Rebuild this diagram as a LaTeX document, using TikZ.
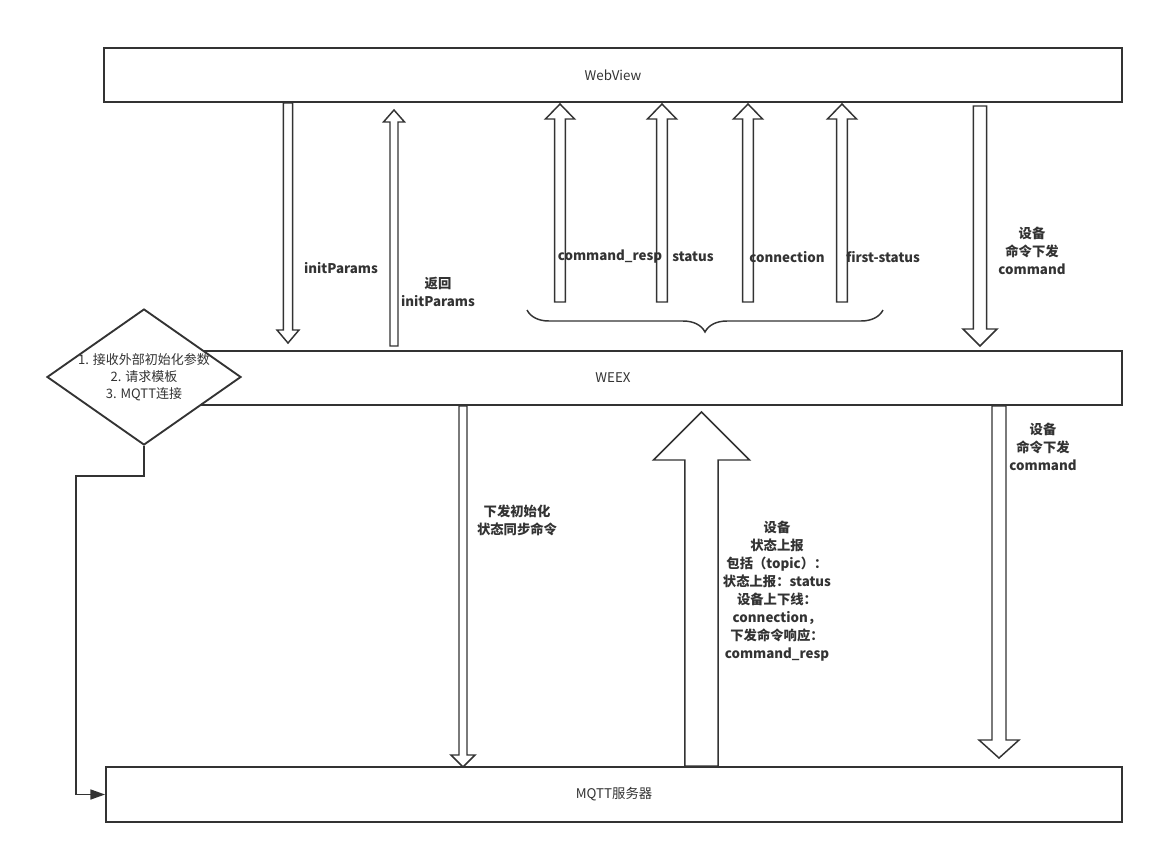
\documentclass[tikz,border=0pt]{standalone}
\usepackage{fontspec}
\setmainfont{Noto Sans CJK SC}
\usetikzlibrary{shapes.geometric,arrows.meta,calc,decorations.pathreplacing}
\definecolor{ink}{HTML}{333333}

\tikzset{
  box/.style={draw=ink, line width=1.4pt, fill=white, minimum width=763.5pt,
    minimum height=40.5pt, font=\fontsize{10}{12}\selectfont, text=ink},
  lab/.style={font=\fontsize{10}{13.5}\selectfont\bfseries, text=ink,
    align=center, inner sep=0pt},
  hollow/.style={draw=ink, line width=1.1pt, fill=white},
  flow/.style={draw=ink, line width=1.2pt, -{Triangle[length=11pt,width=7.5pt]}},
}

% hollow block arrow: tail, tip, shaft half width, head half width, head length
\newcommand{\fatarrow}[5]{%
  \draw[hollow] let \p1=(#1), \p2=(#2), \n1={ifthenelse(\y2>\y1,1,-1)} in
    ({\x1-#3},\y1) -- ({\x1-#3},{\y2-(\n1)*#5}) -- ({\x1-#4},{\y2-(\n1)*#5}) -- (\x2,\y2)
    -- ({\x1+#4},{\y2-(\n1)*#5}) -- ({\x1+#3},{\y2-(\n1)*#5}) -- ({\x1+#3},\y1) -- cycle;}

\begin{document}
\begin{tikzpicture}[x=0.75pt, y=-0.75pt]
\useasboundingbox (0,0) rectangle (1154,854);

% the three layers
\node[box] (webview) at (613,75) {WebView};
\node[box] (weex) at (613,378) {WEEX};
\node[box, minimum width=762pt, minimum height=41.25pt] (mqtt) at (614,794.5) {MQTT服务器};

% start-up steps
\node[diamond, draw=ink, line width=1.4pt, fill=white, minimum width=145.5pt,
  minimum height=102pt, inner sep=0pt] (init) at (144,377) {};
\node[font=\fontsize{9.75}{12.75}\selectfont, text=ink, align=center] (inittext) at (init.center)
  {1. 接收外部初始化参数\\2. 请求模板\\3. MQTT连接};
\draw[flow] (init.south) |- (76,476) |- (mqtt.west);

% webview <-> weex
\coordinate (params) at (288,343);
\fatarrow{params |- webview.south}{params}{3.4pt}{8.25pt}{9.75pt}
\coordinate (backtail) at (394,346);
\coordinate (back) at (394,110);
\fatarrow{backtail}{back}{3pt}{7.9pt}{9pt}
\foreach \name/\ax in {resp/560, status/662, conn/748, first/842} {
  \coordinate (up\name) at (\ax,104);
  \fatarrow{\ax,302}{up\name}{4.1pt}{10.9pt}{11.25pt}
}
\coordinate (cmdtail) at (980,106);
\coordinate (cmd) at (980,346);
\fatarrow{cmdtail}{cmd}{4.9pt}{12.75pt}{12.75pt}
\draw[draw=ink, line width=1.1pt, decorate, decoration={brace, amplitude=16.5pt}]
  (883,310) -- (527,310);

% weex <-> mqtt
\coordinate (sync) at (463,767);
\fatarrow{sync |- weex.south}{sync}{3pt}{9pt}{9pt}
\coordinate (report) at (701.5,412);
\fatarrow{report |- mqtt.north}{report}{12.4pt}{36pt}{36pt}
\coordinate (cmddown) at (999,758);
\fatarrow{cmddown |- weex.south}{cmddown}{5.25pt}{15pt}{13.5pt}

% labels
\node[lab] (lparams) at (341,268) {initParams};
\node[lab] (lback) at (438,292) {返回\\initParams};
\node[lab] (lresp) at (610,257) {command\_resp};
\node[lab] (lstatus) at (693,257) {status};
\node[lab] (lconn) at (787,257) {connection};
\node[lab] (lfirst) at (883,257) {first-status};
\node[lab] (lcmdtop) at (1032,251) {设备\\命令下发\\command};
\node[lab] (lcmdlow) at (1043,447) {设备\\命令下发\\command};
\node[lab] (lsync) at (517,520) {下发初始化\\状态同步命令};
\node[lab] (lreport) at (777,591) {设备\\状态上报\\包括（topic）：\\状态上报：status\\设备上下线：\\connection，\\下发命令响应：\\command\_resp};
\end{tikzpicture}
\end{document}
